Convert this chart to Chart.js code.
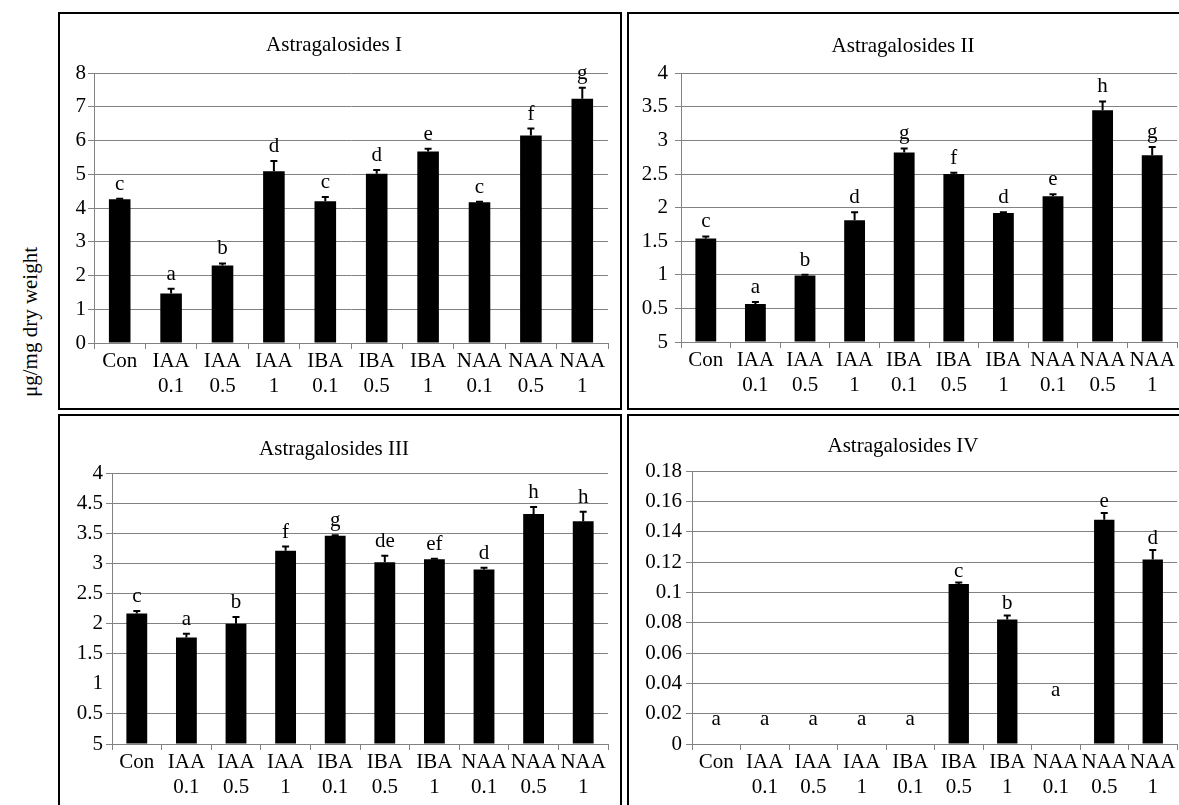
<!DOCTYPE html>
<html>
<head>
<meta charset="utf-8">
<script src="https://cdn.jsdelivr.net/npm/chart.js@4.4.0/dist/chart.umd.min.js"></script>
<style>
  body { margin: 0; background: #fff; width: 1179px; height: 805px; overflow: hidden; position: relative;
         font-family: "Liberation Serif", "Times New Roman", serif; }
  .panel { position: absolute; border: 2px solid #000; box-sizing: border-box; background: #fff; }
  .panel canvas { display: block; }
  #ylab { position: absolute; left: 30px; top: 322px; transform: translate(-50%, -50%) rotate(-90deg);
          font-family: "Liberation Serif", "Times New Roman", serif;
          font-size: 21px; white-space: nowrap; color: #000; }
</style>
</head>
<body>
<div id="ylab">μg/mg dry weight</div>
<div class="panel" style="left:58px;top:12px;width:564px;height:398px"><canvas id="ag1" width="560" height="394"></canvas></div>
<div class="panel" style="left:627px;top:12px;width:560px;height:398px"><canvas id="ag2" width="556" height="394"></canvas></div>
<div class="panel" style="left:58px;top:414px;width:564px;height:400px"><canvas id="ag3" width="560" height="396"></canvas></div>
<div class="panel" style="left:627px;top:414px;width:560px;height:400px"><canvas id="ag4" width="556" height="396"></canvas></div>

<script>
// treatments (auxin, mg/L)
var categories = ["Con", ["IAA", "0.1"], ["IAA", "0.5"], ["IAA", "1"], ["IBA", "0.1"], ["IBA", "0.5"],
                  ["IBA", "1"], ["NAA", "0.1"], ["NAA", "0.5"], ["NAA", "1"]];

// Astragalosides I
var ag1Values  = [4.26, 1.47, 2.30, 5.09, 4.20, 5.02, 5.68, 4.17, 6.15, 7.24];
var ag1Errors  = [0.02, 0.14, 0.06, 0.31, 0.13, 0.11, 0.08, 0.02, 0.21, 0.33];
var ag1Letters = ["c", "a", "b", "d", "c", "d", "e", "c", "f", "g"];
var ag1Ticks   = ["0", "1", "2", "3", "4", "5", "6", "7", "8"];

// Astragalosides II
var ag2Values  = [1.54, 0.565, 0.99, 1.81, 2.82, 2.50, 1.92, 2.17, 3.45, 2.78];
var ag2Errors  = [0.03, 0.03, 0.01, 0.12, 0.06, 0.02, 0.01, 0.03, 0.13, 0.12];
var ag2Letters = ["c", "a", "b", "d", "g", "f", "d", "e", "h", "g"];
var ag2Ticks   = ["5", "0.5", "1", "1.5", "2", "2.5", "3", "3.5", "4"];

// Astragalosides III
var ag3Values  = [2.17, 1.77, 2.00, 3.21, 3.46, 3.02, 3.07, 2.90, 3.82, 3.70];
var ag3Errors  = [0.04, 0.06, 0.11, 0.07, 0.01, 0.11, 0.01, 0.03, 0.12, 0.16];
var ag3Letters = ["c", "a", "b", "f", "g", "de", "ef", "d", "h", "h"];
var ag3Ticks   = ["5", "0.5", "1", "1.5", "2", "2.5", "3", "3.5", "4.5", "4"];

// Astragalosides IV
var ag4Values   = [0, 0, 0, 0, 0, 0.1055, 0.0822, 0, 0.148, 0.1218];
var ag4Errors   = [0, 0, 0, 0, 0, 0.001, 0.0026, 0, 0.0045, 0.0062];
var ag4Letters  = ["a", "a", "a", "a", "a", "c", "b", "a", "e", "d"];
var ag4LetterAt = [0.0158, 0.0158, 0.0158, 0.0158, 0.0158, null, null, 0.035, null, null];
var ag4Ticks    = ["0", "0.02", "0.04", "0.06", "0.08", "0.1", "0.12", "0.14", "0.16", "0.18"];

var serif = "'Liberation Serif', 'Times New Roman', serif";
var gray = "#828282";
var fontSize = 21;

// error bars (upper half only) and the significance letters
function marks(spec) {
    return {
        id: "marks",
        afterDatasetsDraw: function(chart) {
            var c = chart.ctx;
            var y = chart.scales.y;
            var meta = chart.getDatasetMeta(0);
            c.save();
            c.strokeStyle = "#000";
            c.fillStyle = "#000";
            c.lineWidth = 2;
            c.font = fontSize + "px " + serif;
            c.textAlign = "center";
            c.textBaseline = "alphabetic";
            meta.data.forEach(function(bar, i) {
                var v = spec.values[i];
                var e = spec.errors[i];
                var top = y.getPixelForValue(v + e);
                if (e > 0) {
                    c.beginPath();
                    c.moveTo(bar.x, y.getPixelForValue(v));
                    c.lineTo(bar.x, top);
                    c.moveTo(bar.x - 3.5, top);
                    c.lineTo(bar.x + 3.5, top);
                    c.stroke();
                }
                var cy = top - spec.gap;
                if (spec.letterAt && spec.letterAt[i] != null) {
                    cy = y.getPixelForValue(spec.letterAt[i]);
                }
                c.fillText(spec.letters[i], bar.x, cy + 5);
            });
            c.restore();
        }
    };
}

function drawPanel(id, spec) {
    return new Chart(document.getElementById(id), {
        type: "bar",
        data: {
            labels: categories,
            datasets: [{
                data: spec.values,
                backgroundColor: "#000",
                borderWidth: 0,
                barPercentage: 0.42,
                categoryPercentage: 1
            }]
        },
        options: {
            responsive: false,
            animation: false,
            layout: { padding: { left: 0, right: spec.padRight, top: 0, bottom: 0 } },
            plugins: {
                legend: { display: false },
                tooltip: { enabled: false },
                title: {
                    display: true,
                    text: spec.title,
                    color: "#000",
                    font: { family: serif, size: fontSize, weight: "normal", lineHeight: 1.2 },
                    padding: { top: spec.titleTop, bottom: spec.titleBottom }
                }
            },
            scales: {
                x: {
                    grid: { offset: true, drawOnChartArea: false, drawTicks: true, tickLength: 6, color: gray },
                    border: { color: gray, width: 1 },
                    ticks: {
                        color: "#000",
                        font: { family: serif, size: fontSize, lineHeight: 1.2 },
                        padding: 0,
                        autoSkip: false,
                        maxRotation: 0,
                        minRotation: 0
                    },
                    afterFit: function(s) { s.height = spec.xHeight; }
                },
                y: {
                    min: spec.min,
                    max: spec.max,
                    grid: {
                        tickLength: 6,
                        color: function(ctx) {
                            if (ctx.tick && spec.noGrid != null && Math.abs(ctx.tick.value - spec.noGrid) < 1e-9) {
                                return "rgba(0,0,0,0)";
                            }
                            return gray;
                        }
                    },
                    border: { color: gray, width: 1 },
                    ticks: {
                        stepSize: spec.step,
                        color: "#000",
                        font: { family: serif, size: fontSize },
                        padding: spec.tickPad,
                        callback: function(value, index) { return spec.ticks[index]; }
                    },
                    afterFit: function(s) { s.width = spec.yWidth; }
                }
            }
        },
        plugins: [marks(spec)]
    });
}

drawPanel("ag1", {
    title: "Astragalosides I", values: ag1Values, errors: ag1Errors, letters: ag1Letters, ticks: ag1Ticks,
    min: 0, max: 8, step: 1, gap: 14,
    yWidth: 34, xHeight: 65, padRight: 12, titleTop: 19, titleBottom: 15, tickPad: 2
});

drawPanel("ag2", {
    title: "Astragalosides II", values: ag2Values, errors: ag2Errors, letters: ag2Letters, ticks: ag2Ticks,
    min: 0, max: 4, step: 0.5, gap: 14,
    yWidth: 52, xHeight: 66, padRight: 8, titleTop: 20, titleBottom: 14, tickPad: 7
});

drawPanel("ag3", {
    title: "Astragalosides III", values: ag3Values, errors: ag3Errors, letters: ag3Letters, ticks: ag3Ticks,
    min: 0, max: 4.5, step: 0.5, gap: 14, noGrid: 1,
    yWidth: 52, xHeight: 68, padRight: 12, titleTop: 21, titleBottom: 11, tickPad: 3
});

drawPanel("ag4", {
    title: "Astragalosides IV", values: ag4Values, errors: ag4Errors, letters: ag4Letters, ticks: ag4Ticks,
    letterAt: ag4LetterAt,
    min: 0, max: 0.18, step: 0.02, gap: 11,
    yWidth: 63, xHeight: 68, padRight: 8, titleTop: 18, titleBottom: 12, tickPad: 4
});
</script>
</body>
</html>
